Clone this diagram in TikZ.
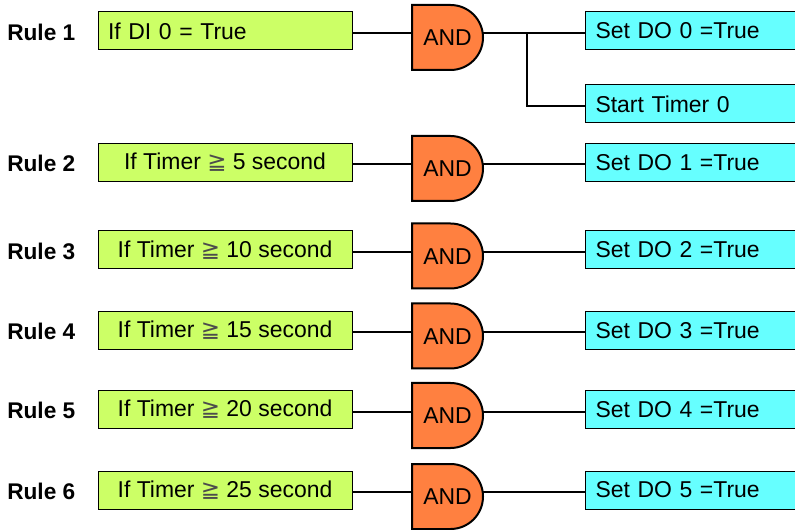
\documentclass[tikz,border=0pt]{standalone}
\usepackage{fontspec}
\setmainfont{Liberation Sans}
\newfontfamily\symfont{DejaVu Sans}
\definecolor{cgreen}{RGB}{204,255,102}
\definecolor{ccyan}{RGB}{102,255,255}
\definecolor{corange}{RGB}{255,128,64}
\begin{document}
\begin{tikzpicture}[x=0.75pt,y=-0.75pt,
  txt/.style={font=\fontsize{17.2}{20}\selectfont},
  rulelab/.style={font=\fontsize{17}{20}\selectfont\bfseries, anchor=west, inner sep=0pt},
  cond/.style={txt, draw=black, line width=0.75pt, fill=cgreen, minimum width=190.5pt, minimum height=28.5pt, inner sep=0pt},
  act/.style={txt, draw=black, line width=0.75pt, fill=ccyan, anchor=west, minimum height=28.5pt, text width=150pt, inner xsep=7.5pt, inner ysep=0pt, align=left},
  gatebody/.style={draw=black, line width=1.5pt, fill=corange},
  andlab/.style={txt, minimum width=53.25pt, minimum height=48.75pt, inner sep=0pt},
  wire/.style={draw=black, line width=1.5pt}]
\useasboundingbox (0,0) rectangle (795,530);

% Rule 1
\node[rulelab] (r1) at (7,32) {Rule 1};
\node[cond, text width=175.5pt, inner xsep=7.5pt, align=left] (c1) at (225,31) {If DI 0 = True};
\draw[gatebody] (412,5) -- (450.5,5) arc(-90:90:32.5) -- (412,70) -- cycle;
\node[andlab] (g1) at (447.5,38) {AND};
\node[act] (a1) at (585,31) {Set DO 0 =True};
\node[act] (t0) at (585,104) {Start Timer 0};
\coordinate (l1) at ([yshift=-1.5pt]c1.east);
\coordinate (lt) at ([yshift=-1.5pt]t0.west);
\coordinate (j1) at (527,33);
\draw[wire] (l1) -- (l1 -| g1.west);
\draw[wire] (g1.east |- l1) -- (l1 -| a1.west);
\draw[wire] (j1) |- (lt);

% Rules 2-6
\foreach \i/\cy/\gy/\t/\d in {2/162.5/168.5/5/1, 3/250/256/10/2, 4/330.5/336/15/3, 5/409.5/415.5/20/4, 6/490/496.5/25/5}{
  \node[rulelab] (r\i) at (7,\cy+1) {Rule \i};
  \node[cond] (c\i) at (225,\cy) {If Timer {\symfont\color{black!70}≧} \t{} second};
  \draw[gatebody] (412,\gy-32.5) -- (450.5,\gy-32.5) arc(-90:90:32.5) -- (412,\gy+32.5) -- cycle;
  \node[andlab] (g\i) at (447.5,\gy+0.5) {AND};
  \node[act] (a\i) at (585,\cy) {Set DO \d{} =True};
  \coordinate (l\i) at ([yshift=-1.5pt]c\i.east);
  \draw[wire] (l\i) -- (l\i -| g\i.west);
  \draw[wire] (g\i.east |- l\i) -- (l\i -| a\i.west);
}
\end{tikzpicture}
\end{document}
